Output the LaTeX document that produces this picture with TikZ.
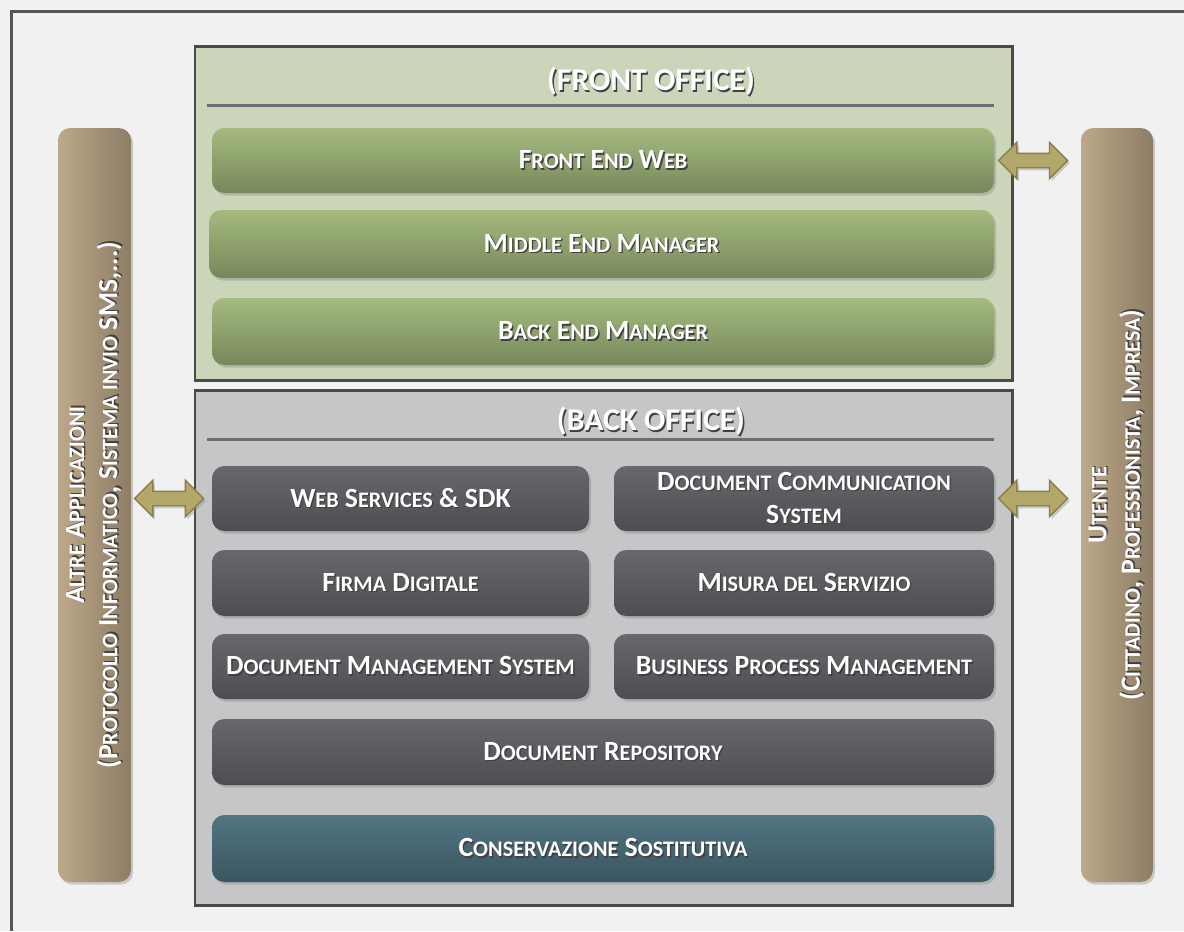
\documentclass[tikz,border=0pt]{standalone}
\usepackage{fontspec}
\setmainfont{Carlito}
\usetikzlibrary{calc}
\usetikzlibrary{positioning}
\usetikzlibrary{shapes.arrows}
\usetikzlibrary{shadows}

\definecolor{pagebg}{HTML}{F1F1F1}
\definecolor{frameline}{HTML}{555555}
\definecolor{frontbg}{HTML}{CBD5BA}
\definecolor{backbg}{HTML}{C6C6C8}
\definecolor{panelline}{HTML}{4A4A4A}
\definecolor{ruleline}{HTML}{6E6E6E}
\definecolor{feTop}{HTML}{A5BA7F}
\definecolor{feBot}{HTML}{76885A}
\definecolor{boTop}{HTML}{67676C}
\definecolor{boBot}{HTML}{4D4D52}
\definecolor{csTop}{HTML}{517581}
\definecolor{csBot}{HTML}{3B5661}
\definecolor{sideL}{HTML}{BDA889}
\definecolor{sideR}{HTML}{8D7D66}
\definecolor{arrowfill}{HTML}{B4A76A}
\definecolor{arrowline}{HTML}{8A7E4C}

% white lettering with a dark offset copy behind it
\newcommand{\sh}[1]{\leavevmode\rlap{\kern0.8pt\raisebox{-0.8pt}{\color{black!75}#1}}#1}
% the font has no small caps, so the lower part is set smaller by hand
\newcommand{\fs}[1]{{\fontsize{12.6}{15}\selectfont #1}}

\begin{document}
\begin{tikzpicture}[x=0.02cm,y=-0.02cm,
sz/.style 2 args={minimum width=#1*0.02cm,minimum height=#2*0.02cm},
panel/.style={draw=panelline,line width=1.7pt,inner sep=0pt},
rule/.style={draw=ruleline,line width=1.2pt},
title/.style={text=white,font=\fontsize{18}{20}\selectfont\bfseries},
module/.style={rounded corners=7pt,inner sep=0pt,text=white,align=center,
  font=\fontsize{15.8}{19}\selectfont\bfseries,
  drop shadow={opacity=0.35,shadow xshift=1.2pt,shadow yshift=-1.5pt}},
fe/.style={module,top color=feTop,bottom color=feBot},
bo/.style={module,top color=boTop,bottom color=boBot},
cons/.style={module,top color=csTop,bottom color=csBot},
side/.style={module,left color=sideL,right color=sideR},
sidetext/.style={rotate=90,text=white,align=center,
  font=\fontsize{15.8}{19}\selectfont\bfseries},
link/.style={double arrow,fill=arrowfill,draw=arrowline,line width=0.8pt,
  inner sep=0.13cm,minimum height=1.38cm,double arrow head extend=0.22cm,
  drop shadow={opacity=0.35,shadow xshift=1.2pt,shadow yshift=-1.5pt}}]

\useasboundingbox[fill=pagebg] (0,0) rectangle (1184,931);
\draw[frameline,line width=1.8pt] (11.5,931) |- (1184,11.5);

% side bars
\node[side,sz={73}{754}] (alt) at (94.5,505) {};
\node[sidetext] at (alt) {\sh{A\fs{LTRE} A\fs{PPLICAZIONI}}\\
  \sh{(P\fs{ROTOCOLLO} I\fs{NFORMATICO}, S\fs{ISTEMA INVIO} SMS,...)}};
\node[side,sz={72}{754}] (ute) at (1117,505) {};
\node[sidetext] at (ute) {\sh{U\fs{TENTE}}\\
  \sh{(C\fs{ITTADINO}, P\fs{ROFESSIONISTA}, I\fs{MPRESA})}};

% front office
\node[panel,fill=frontbg,sz={817}{334}] (fo) at (603.5,213) {};
\node[title] (fot) at (651,82) {\sh{(FRONT OFFICE)}};
\draw[rule] ($(fo.north west)+(13,61)$) -- ($(fo.north east)+(-20,61)$);
\node[fe,sz={782}{65}] (few) at (603,160.5) {\sh{F\fs{RONT} E\fs{ND} W\fs{EB}}};
\node[fe,sz={785}{68}] (mem) at (601.5,244) {\sh{M\fs{IDDLE} E\fs{ND} M\fs{ANAGER}}};
\node[fe,sz={782}{67}] (bem) at (603,331.5) {\sh{B\fs{ACK} E\fs{ND} M\fs{ANAGER}}};

% back office
\node[panel,fill=backbg,sz={817}{515}] (bo) at (603.5,647.5) {};
\node[title] (bot) at (651,422) {\sh{(BACK OFFICE)}};
\draw[rule] ($(bo.north west)+(13,51)$) -- ($(bo.north east)+(-20,51)$);
\node[bo,sz={377}{65}] (wss) at (400.5,498.5) {\sh{W\fs{EB} S\fs{ERVICES} \& SDK}};
\node[bo,sz={380}{65}] (dcs) at (804,498.5) {\sh{D\fs{OCUMENT} C\fs{OMMUNICATION}}\\\sh{S\fs{YSTEM}}};
\node[bo,sz={377}{66}] (fd) at (400.5,583) {\sh{F\fs{IRMA} D\fs{IGITALE}}};
\node[bo,sz={380}{66}] (mds) at (804,583) {\sh{M\fs{ISURA DEL} S\fs{ERVIZIO}}};
\node[bo,sz={377}{65}] (dms) at (400.5,666.5) {\sh{D\fs{OCUMENT} M\fs{ANAGEMENT} S\fs{YSTEM}}};
\node[bo,sz={380}{65}] (bpm) at (804,666.5) {\sh{B\fs{USINESS} P\fs{ROCESS} M\fs{ANAGEMENT}}};
\node[bo,sz={782}{66}] (dr) at (603,752) {\sh{D\fs{OCUMENT} R\fs{EPOSITORY}}};
\node[cons,sz={782}{67}] (cs) at (603,848.5) {\sh{C\fs{ONSERVAZIONE} S\fs{OSTITUTIVA}}};

% links to the outside
\node[link] (l1) at ($(few.east)!0.45!(few.east -| ute.west)$) {};
\node[link] (l2) at ($(alt.east |- wss.west)!0.47!(wss.west)$) {};
\node[link] (l3) at ($(dcs.east)!0.45!(dcs.east -| ute.west)$) {};
\end{tikzpicture}
\end{document}
